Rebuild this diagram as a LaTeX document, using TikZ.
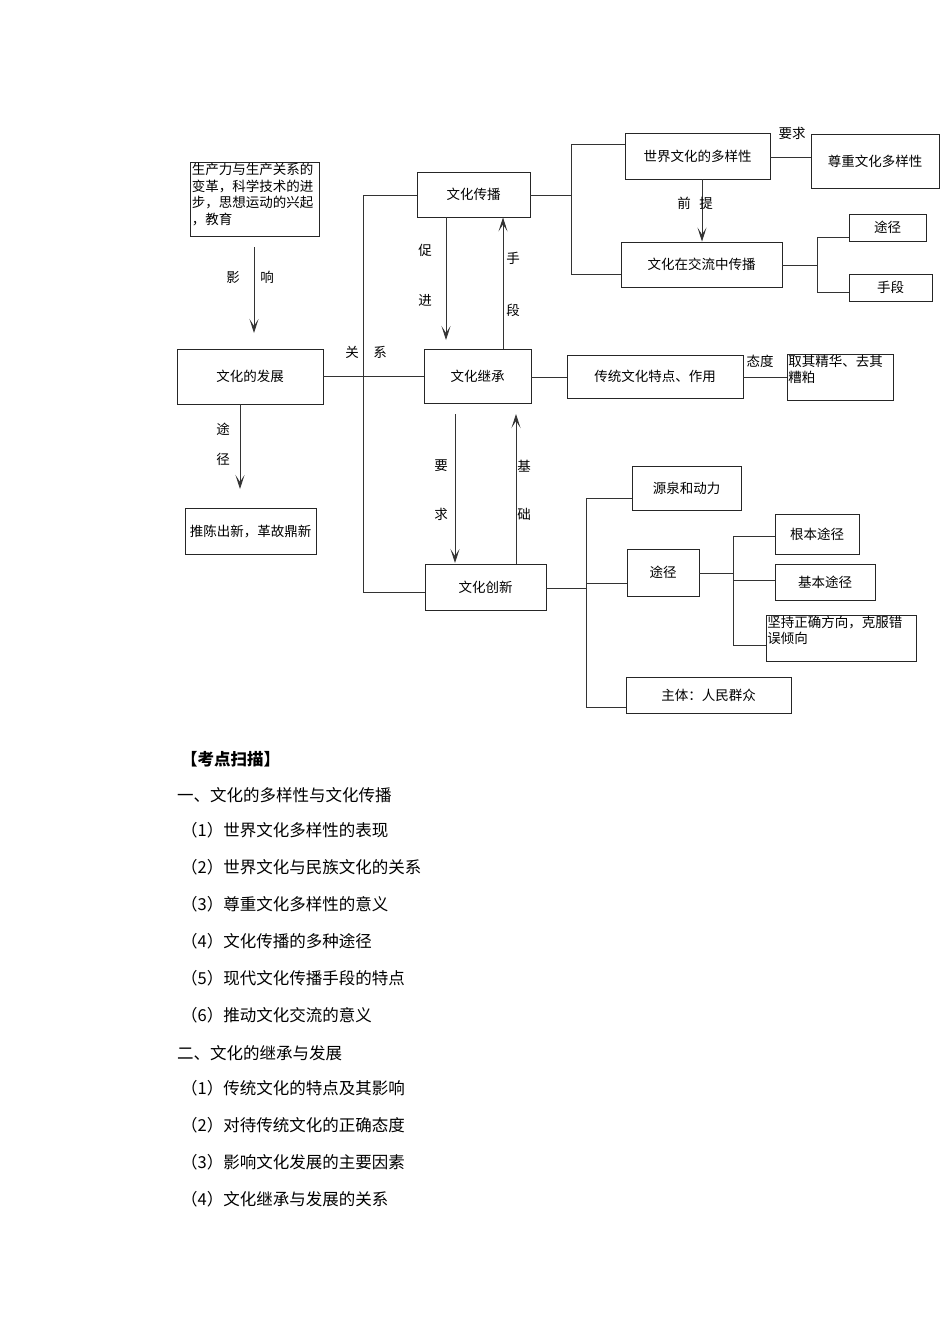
\documentclass[tikz,border=0pt]{standalone}
\usepackage{fontspec}
\setmainfont{Noto Sans CJK SC}
\usetikzlibrary{arrows.meta}
\tikzset{
  box/.style={draw=black!85, line width=0.9pt, inner sep=0pt, font=\fontsize{13.5}{16.5}\selectfont},
  conn/.style={draw=black!80, line width=0.8pt},
  arr/.style={conn, -{Stealth[length=14pt,width=9pt,inset=7pt]}},
  lab/.style={font=\fontsize{13.5}{16}\selectfont, inner sep=0pt},
  list/.style={font=\fontsize{16.5}{18}\selectfont, anchor=west, inner sep=0pt},
}
\begin{document}
\begin{tikzpicture}[x=1pt,y=-1pt]
\useasboundingbox (0,0) rectangle (950,1344);

% ---------- boxes ----------
\node[box, minimum width=129, minimum height=74, anchor=north west] (src) at (190,162)
  {\parbox[t][72pt][t]{126pt}{\fontsize{13.5}{16.5}\selectfont\raggedright 生产力与生产关系的\\变革，科学技术的进\\步，思想运动的兴起\\，教育}};
\node[box, minimum width=146, minimum height=55] (fz) at (250,376.5) {文化的发展};
\node[box, minimum width=113, minimum height=45] (cb) at (473.5,194.5) {文化传播};
\node[box, minimum width=107, minimum height=54] (jc) at (477.5,376) {文化继承};
\node[box, minimum width=121, minimum height=46] (cx) at (485.5,587) {文化创新};
\node[box, minimum width=131, minimum height=46] (tc) at (250.5,531) {推陈出新，革故鼎新};
\node[box, minimum width=145, minimum height=46] (dy) at (697.5,156) {世界文化的多样性};
\node[box, minimum width=128, minimum height=54] (zz) at (875,161) {尊重文化多样性};
\node[box, minimum width=161, minimum height=45] (jl) at (701.5,264.5) {文化在交流中传播};
\node[box, minimum width=77, minimum height=27] (tj) at (887.5,227.5) {途径};
\node[box, minimum width=83, minimum height=27] (sd) at (890.5,287.5) {手段};
\node[box, minimum width=176, minimum height=43] (ct) at (655,376.5) {传统文化特点、作用};
\node[box, minimum width=106, minimum height=46, anchor=north west] (qq) at (787,354)
  {\parbox[t][44pt][t]{104pt}{\fontsize{13.5}{16}\selectfont\raggedright 取其精华、去其\\糟粕}};
\node[box, minimum width=109, minimum height=44] (yq) at (686.5,488) {源泉和动力};
\node[box, minimum width=72, minimum height=47] (tj2) at (663,572.5) {途径};
\node[box, minimum width=84, minimum height=40] (gb) at (817,534) {根本途径};
\node[box, minimum width=100, minimum height=36] (jb) at (825,582) {基本途径};
\node[box, minimum width=150, minimum height=46, anchor=north west] (jz) at (766,615)
  {\parbox[t][44pt][t]{148pt}{\fontsize{13.5}{16}\selectfont\raggedright 坚持正确方向，克服错\\误倾向}};
\node[box, minimum width=165, minimum height=36] (zt) at (708.5,695) {主体：人民群众};

% ---------- coordinates ----------
\coordinate (yxS) at (254,247);
\coordinate (yxT) at (254,333);
\coordinate (busT) at (363,195);
\coordinate (busB) at (363,592);
\coordinate (cjX) at (446,340);
\coordinate (sdX) at (503,0);
\coordinate (tjS) at (240,404);
\coordinate (tjT) at (240,489);
\coordinate (yqS) at (455,414);
\coordinate (yqT) at (455,563);
\coordinate (jcS) at (516,564);
\coordinate (jcT) at (516,414);
\coordinate (b1) at (571,195);
\coordinate (b1t) at (571,144);
\coordinate (b1b) at (571,274);
\coordinate (qtX) at (702,0);
\coordinate (b2) at (817,265);
\coordinate (b2t) at (817,237);
\coordinate (b2b) at (817,292);
\coordinate (b3) at (586,588);
\coordinate (b3t) at (586,498);
\coordinate (b3m) at (586,583);
\coordinate (b3b) at (586,707);
\coordinate (b4) at (733,573);
\coordinate (b4t) at (733,536);
\coordinate (b4m) at (733,580);
\coordinate (b4b) at (733,645);

% ---------- connectors ----------
\draw[arr] (yxS) -- (yxT);
\draw[conn] (fz.east) -- (jc.west |- fz.east);
\draw[conn] (cb.west |- busT) -- (busT) -- (busB) -- (cx.west |- busB);
\draw[arr] (cjX |- cb.south) -- (cjX);
\draw[arr] (sdX |- jc.north) -- (sdX |- cb.south);
\draw[arr] (tjS) -- (tjT);
\draw[arr] (yqS) -- (yqT);
\draw[arr] (jcS) -- (jcT);
\draw[conn] (cb.east |- b1) -- (b1);
\draw[conn] (dy.west |- b1t) -- (b1t) -- (b1b) -- (jl.west |- b1b);
\draw[arr] (qtX |- dy.south) -- (qtX |- jl.north);
\draw[conn] (dy.east |- 0,157) -- (zz.west |- 0,157);
\draw[conn] (jl.east |- b2) -- (b2);
\draw[conn] (tj.west |- b2t) -- (b2t) -- (b2b) -- (sd.west |- b2b);
\draw[conn] (jc.east |- 0,377) -- (ct.west |- 0,377);
\draw[conn] (ct.east |- 0,377) -- (qq.west |- 0,377);
\draw[conn] (cx.east |- b3) -- (b3);
\draw[conn] (yq.west |- b3t) -- (b3t) -- (b3b) -- (zt.west |- b3b);
\draw[conn] (b3m) -- (tj2.west |- b3m);
\draw[conn] (tj2.east |- b4) -- (b4);
\draw[conn] (gb.west |- b4t) -- (b4t) -- (b4b) -- (jz.west |- b4b);
\draw[conn] (b4m) -- (jb.west |- b4m);

% ---------- labels ----------
\node[lab] (l1) at (233,277) {影};
\node[lab] (l2) at (267,277) {响};
\node[lab] (l3) at (352,352) {关};
\node[lab] (l4) at (380,352) {系};
\node[lab] (l5) at (425,250) {促};
\node[lab] (l6) at (425,300) {进};
\node[lab] (l7) at (513,258) {手};
\node[lab] (l8) at (513,310) {段};
\node[lab] (l9) at (223,429) {途};
\node[lab] (l10) at (223,459) {径};
\node[lab] (l11) at (441,466) {要};
\node[lab] (l12) at (441,514) {求};
\node[lab] (l13) at (524,466) {基};
\node[lab] (l14) at (524,514) {础};
\node[lab] (l15) at (684,203) {前};
\node[lab] (l16) at (706,203) {提};
\node[lab] (l17) at (792,133) {要求};
\node[lab] (l18) at (760,361) {态度};

% ---------- list ----------
\node[list] (h0) at (181,759) {\bfseries 【考点扫描】};
\node[list] (h1) at (177,795) {一、文化的多样性与文化传播};
\node[list] (a1) at (181,830) {（1）世界文化多样性的表现};
\node[list] (a2) at (181,867) {（2）世界文化与民族文化的关系};
\node[list] (a3) at (181,904) {（3）尊重文化多样性的意义};
\node[list] (a4) at (181,941) {（4）文化传播的多种途径};
\node[list] (a5) at (181,978) {（5）现代文化传播手段的特点};
\node[list] (a6) at (181,1015) {（6）推动文化交流的意义};
\node[list] (h2) at (177,1053) {二、文化的继承与发展};
\node[list] (b1n) at (181,1088) {（1）传统文化的特点及其影响};
\node[list] (b2n) at (181,1125) {（2）对待传统文化的正确态度};
\node[list] (b3n) at (181,1162) {（3）影响文化发展的主要因素};
\node[list] (b4n) at (181,1199) {（4）文化继承与发展的关系};
\end{tikzpicture}
\end{document}
